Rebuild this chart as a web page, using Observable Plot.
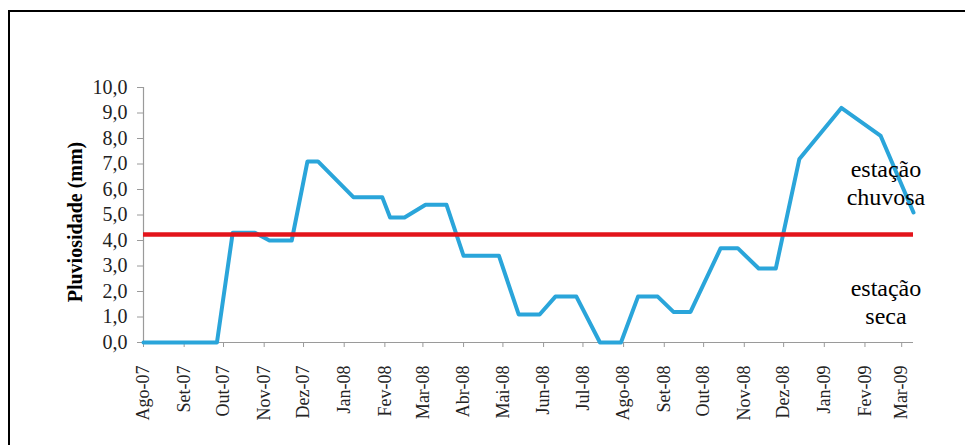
<!DOCTYPE html>
<html>
<head>
<meta charset="utf-8">
<script src="https://cdn.jsdelivr.net/npm/d3@7"></script>
<script src="https://cdn.jsdelivr.net/npm/@observablehq/plot@0.6"></script>
<style>
  html, body { margin: 0; padding: 0; background: #fff; }
  #wrap { position: relative; width: 965px; height: 445px; overflow: hidden; }
  #frame { position: absolute; left: 8px; top: 10px; width: 2000px; height: 2000px;
           border-left: 2.5px solid #000; border-top: 2.5px solid #000; pointer-events: none; }
  #wrap svg text { font-family: 'Liberation Serif', 'Times New Roman', serif; }
</style>
</head>
<body>
<div id="wrap"><div id="frame"></div></div>
<script>
// Measurement dates and rainfall values (mm)
const dates = [
  "2007-08-01","2007-09-26","2007-10-08","2007-10-25","2007-11-05","2007-11-22",
  "2007-12-04","2007-12-12","2008-01-08","2008-01-30","2008-02-05","2008-02-16",
  "2008-03-03","2008-03-19","2008-04-01","2008-04-28","2008-05-13","2008-05-29",
  "2008-06-10","2008-06-26","2008-07-14","2008-07-30","2008-08-12","2008-08-27",
  "2008-09-08","2008-09-21","2008-10-14","2008-10-27","2008-11-12","2008-11-25",
  "2008-12-13","2009-01-14","2009-02-13","2009-03-10"
];
const values = [
  0.0, 0.0, 4.3, 4.3, 4.0, 4.0,
  7.1, 7.1, 5.7, 5.7, 4.9, 4.9,
  5.4, 5.4, 3.4, 3.4, 1.1, 1.1,
  1.8, 1.8, 0.0, 0.0, 1.8, 1.8,
  1.2, 1.2, 3.7, 3.7, 2.9, 2.9,
  7.2, 9.2, 8.1, 5.1
];
// Season threshold (mm)
const threshold = 4.24;
// Axis tick labels
const monthLabels = [
  "Ago-07","Set-07","Out-07","Nov-07","Dez-07","Jan-08","Fev-08","Mar-08","Abr-08","Mai-08",
  "Jun-08","Jul-08","Ago-08","Set-08","Out-08","Nov-08","Dez-08","Jan-09","Fev-09","Mar-09"
];
const yTicks = [0, 1, 2, 3, 4, 5, 6, 7, 8, 9, 10];
const yTitle = "Pluviosidade (mm)";
// Annotations
const noteLabels = ["estação\nchuvosa", "estação\nseca"];
const noteDates = ["2009-02-17", "2009-02-17"];
const noteValues = [6.3, 1.62];

const data = dates.map((d, i) => ({date: new Date(d), value: values[i]}));
const notes = noteLabels.map((t, i) => ({text: t, date: new Date(noteDates[i]), value: noteValues[i]}));
const start = new Date(dates[0]);
const tickDates = monthLabels.map((_, i) => d3.utcMonth.offset(start, i));
const fmtY = d => d.toFixed(1).replace(".", ",");
const fmtX = d => monthLabels[d3.utcMonth.count(start, d)];

const gray = "#9a9a9a";
const font = "'Liberation Serif', 'Times New Roman', serif";

const chart = Plot.plot({
  width: 965,
  height: 445,
  marginLeft: 143,
  marginRight: 52,
  marginTop: 87,
  marginBottom: 103,
  style: {fontFamily: font, background: "transparent", color: "#000", overflow: "visible"},
  x: {type: "utc", domain: d3.extent(data, d => d.date)},
  y: {domain: [0, 10]},
  marks: [
    Plot.ruleY([0], {stroke: gray, strokeWidth: 1.2}),
    Plot.ruleX([start], {stroke: gray, strokeWidth: 1.2}),
    Plot.axisY({ticks: yTicks, tickFormat: fmtY, tickSize: 6, tickPadding: 10, fontSize: 20, fontFamily: font, stroke: gray, label: null, fill: "#222"}),
    Plot.axisX({ticks: tickDates, tickFormat: fmtX, tickRotate: -90, tickSize: 5, tickPadding: 18, fontSize: 18, fontFamily: font, stroke: gray, label: null, fill: "#222"}),
    Plot.text([yTitle], {frameAnchor: "left", dx: -68, dy: 7, rotate: -90, textAnchor: "middle", fontSize: 20, fontWeight: "bold", fontFamily: font, fill: "#000"}),
    Plot.lineY(data, {x: "date", y: "value", stroke: "#2aa5da", strokeWidth: 4, strokeLinejoin: "round"}),
    Plot.ruleY([threshold], {stroke: "#e3141b", strokeWidth: 4.5}),
    Plot.text(notes, {x: "date", y: "value", text: "text", fontSize: 24, lineHeight: 1.17, fontFamily: font, fill: "#000", textAnchor: "middle"})
  ]
});
document.getElementById("wrap").insertBefore(chart, document.getElementById("frame"));
</script>
</body>
</html>
